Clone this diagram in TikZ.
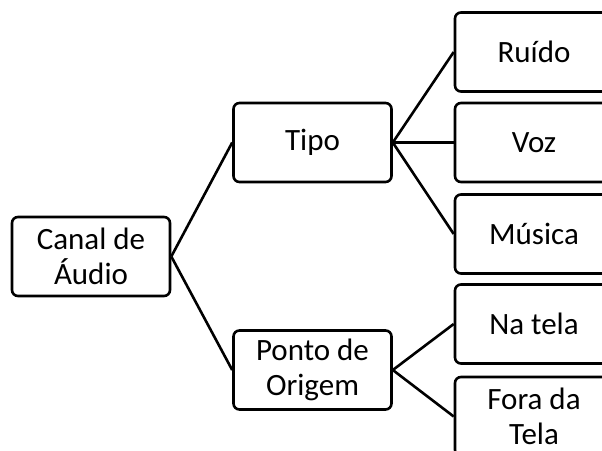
\documentclass[tikz,border=0pt]{standalone}
\usepackage{fontspec}
\setmainfont{Carlito}
\begin{document}
\begin{tikzpicture}[
  x=1pt, y=-1pt,
  bx/.style={draw, line width=2.6pt, rounded corners=6pt,
    minimum width=158pt, minimum height=79pt, inner sep=0pt,
    align=center, font=\fontsize{31}{34.5}\selectfont},
  lnk/.style={line width=2.6pt},
]

\clip (0,0) rectangle (602,450);

\node [bx] (canal) at (91,256.5) {Canal de\\Áudio};
\node [bx] (tipo) at (312.5,142.5) {Tipo};
\node [bx] (ponto) at (312.5,370) {Ponto de\\Origem};

\node [bx] (ruido) at (534,52) {Ruído};
\node [bx] (voz) at (534,142.5) {Voz};
\node [bx] (musica) at (534,234) {Música};
\node [bx] (natela) at (534,324) {Na tela};
\node [bx] (fora) at (534,416.5) {Fora da\\Tela};

\draw [lnk] (canal.east) -- (tipo.west);
\draw [lnk] (canal.east) -- (ponto.west);
\draw [lnk] (tipo.east) -- (ruido.west);
\draw [lnk] (tipo.east) -- (voz.west);
\draw [lnk] (tipo.east) -- (musica.west);
\draw [lnk] (ponto.east) -- (natela.west);
\draw [lnk] (ponto.east) -- (fora.west);

\end{tikzpicture}
\end{document}
